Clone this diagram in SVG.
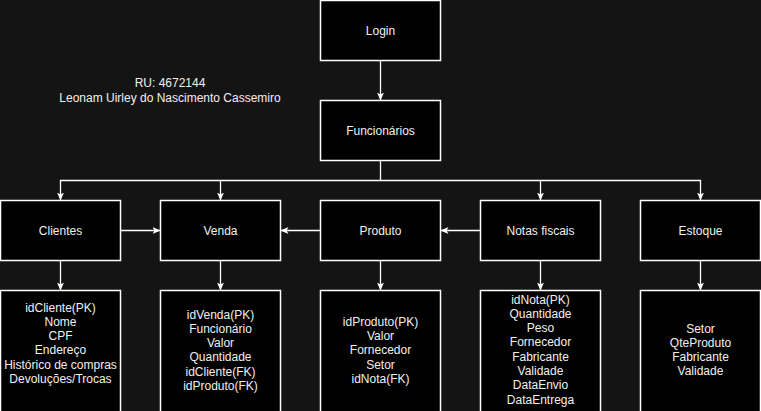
<svg xmlns="http://www.w3.org/2000/svg" width="761" height="411" viewBox="0 0 761 411">
<defs>
<marker id="arr" markerWidth="9" markerHeight="8" refX="8" refY="3.5" orient="auto" markerUnits="userSpaceOnUse">
<path d="M0,0 L8,3.5 L0,7 L2,3.5 Z" fill="#ffffff"/>
</marker>
<style>
.box{fill:#000000;stroke:#ffffff;stroke-width:1.5}
.t{font-family:"Liberation Sans",Arial,sans-serif;font-size:12px;fill:#f0f0f0;text-anchor:middle}
.c{fill:none;stroke:#ffffff;stroke-width:1.3}
</style>
</defs>
<rect x="0" y="0" width="761" height="411" fill="#141414"/>
<g id="connectors">
<path class="c" d="M380.5,60.5 V100.5" marker-end="url(#arr)"/>
<path class="c" d="M380.5,160.5 V180.5 H60.5 V200.5" marker-end="url(#arr)"/>
<path class="c" d="M220.5,180.5 V200.5" marker-end="url(#arr)"/>
<path class="c" d="M380.5,180.5 H700.5 V200.5" marker-end="url(#arr)"/>
<path class="c" d="M540.5,180.5 V200.5" marker-end="url(#arr)"/>
<path class="c" d="M120.5,230.5 H160.5" marker-end="url(#arr)"/>
<path class="c" d="M320.5,230.5 H280.5" marker-end="url(#arr)"/>
<path class="c" d="M480.5,230.5 H440.5" marker-end="url(#arr)"/>
<path class="c" d="M60.5,260.5 V290.5" marker-end="url(#arr)"/>
<path class="c" d="M220.5,260.5 V290.5" marker-end="url(#arr)"/>
<path class="c" d="M380.5,260.5 V290.5" marker-end="url(#arr)"/>
<path class="c" d="M540.5,260.5 V290.5" marker-end="url(#arr)"/>
<path class="c" d="M700.5,260.5 V290.5" marker-end="url(#arr)"/>
</g>
<g id="label-ru">
<text class="t" x="170" y="87">RU: 4672144</text>
<text class="t" x="170" y="102">Leonam Uirley do Nascimento Cassemiro</text>
</g>
<g id="login"><rect class="box" x="320.5" y="0.5" width="120" height="60"/><text class="t" x="380.5" y="34.5">Login</text></g>
<g id="funcionarios"><rect class="box" x="320.5" y="100.5" width="120" height="60"/><text class="t" x="380.5" y="134.5">Funcionários</text></g>
<g id="clientes"><rect class="box" x="0.5" y="200.5" width="120" height="60"/><text class="t" x="60.5" y="234.5">Clientes</text></g>
<g id="venda"><rect class="box" x="160.5" y="200.5" width="120" height="60"/><text class="t" x="220.5" y="234.5">Venda</text></g>
<g id="produto"><rect class="box" x="320.5" y="200.5" width="120" height="60"/><text class="t" x="380.5" y="234.5">Produto</text></g>
<g id="notas"><rect class="box" x="480.5" y="200.5" width="120" height="60"/><text class="t" x="540.5" y="234.5">Notas fiscais</text></g>
<g id="estoque"><rect class="box" x="640.5" y="200.5" width="120" height="60"/><text class="t" x="700.5" y="234.5">Estoque</text></g>
<g id="clientes-attrs"><rect class="box" x="0.5" y="290.5" width="120" height="122"/>
<text class="t" x="60.5" y="311.5">idCliente(PK)<tspan x="60.5" dy="14.3">Nome</tspan><tspan x="60.5" dy="14.3">CPF</tspan><tspan x="60.5" dy="14.3">Endereço</tspan><tspan x="60.5" dy="14.3">Histórico de compras</tspan><tspan x="60.5" dy="14.3">Devoluções/Trocas</tspan></text></g>
<g id="venda-attrs"><rect class="box" x="160.5" y="290.5" width="120" height="122"/>
<text class="t" x="220.5" y="318.5">idVenda(PK)<tspan x="220.5" dy="14.3">Funcionário</tspan><tspan x="220.5" dy="14.3">Valor</tspan><tspan x="220.5" dy="14.3">Quantidade</tspan><tspan x="220.5" dy="14.3">idCliente(FK)</tspan><tspan x="220.5" dy="14.3">idProduto(FK)</tspan></text></g>
<g id="produto-attrs"><rect class="box" x="320.5" y="290.5" width="120" height="122"/>
<text class="t" x="380.5" y="325.8">idProduto(PK)<tspan x="380.5" dy="14.3">Valor</tspan><tspan x="380.5" dy="14.3">Fornecedor</tspan><tspan x="380.5" dy="14.3">Setor</tspan><tspan x="380.5" dy="14.3">idNota(FK)</tspan></text></g>
<g id="notas-attrs"><rect class="box" x="480.5" y="290.5" width="120" height="122"/>
<text class="t" x="540.5" y="303.5">idNota(PK)<tspan x="540.5" dy="14.3">Quantidade</tspan><tspan x="540.5" dy="14.3">Peso</tspan><tspan x="540.5" dy="14.3">Fornecedor</tspan><tspan x="540.5" dy="14.3">Fabricante</tspan><tspan x="540.5" dy="14.3">Validade</tspan><tspan x="540.5" dy="14.3">DataEnvio</tspan><tspan x="540.5" dy="14.3">DataEntrega</tspan></text></g>
<g id="estoque-attrs"><rect class="box" x="640.5" y="290.5" width="120" height="122"/>
<text class="t" x="700.5" y="332.5">Setor<tspan x="700.5" dy="14.3">QteProduto</tspan><tspan x="700.5" dy="14.3">Fabricante</tspan><tspan x="700.5" dy="14.3">Validade</tspan></text></g>
</svg>
